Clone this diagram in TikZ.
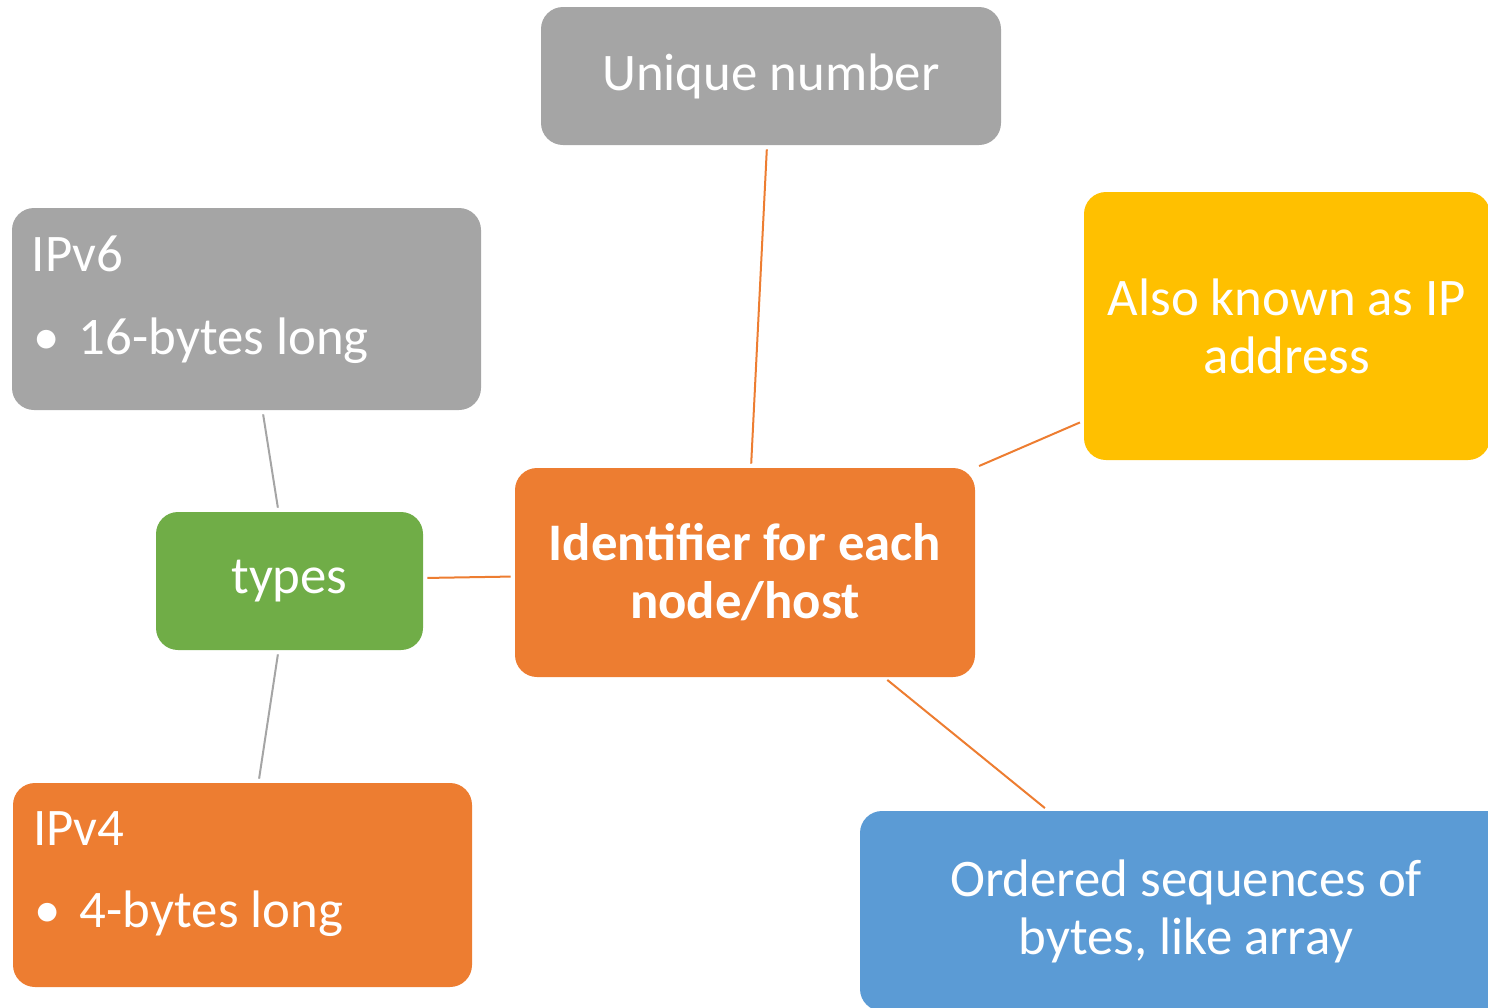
\documentclass[tikz,border=0pt]{standalone}
\usepackage{fontspec}
\setmainfont{Carlito}
\usepackage{tikz}
\usetikzlibrary{positioning,calc}
\definecolor{mapgrey}{HTML}{A5A5A5}
\definecolor{maporange}{HTML}{ED7D31}
\definecolor{mapyellow}{HTML}{FFC000}
\definecolor{mapgreen}{HTML}{70AD47}
\definecolor{mapblue}{HTML}{5B9BD5}
\tikzset{
    mapbox/.style={
        rectangle, rounded corners=11pt, draw=none,
        text=white, inner sep=0pt, align=center,
        font=\fontsize{26.4}{29}\selectfont
    },
    boxtext/.style={
        text=white, inner sep=0pt, anchor=base west,
        font=\fontsize{26.4}{29}\selectfont
    },
    maplink/.style={
        line width=1pt, shorten <=2pt, shorten >=2pt
    }
}

\begin{document}
\begin{tikzpicture}[x=0.5pt, y=-0.5pt]
    \useasboundingbox (0,0) rectangle (1488,1007);
    % Boxes
    \node[mapbox, fill=mapgrey, minimum width=230pt, minimum height=69pt]
        (unique) at (771,76) {Unique number};
    \node[mapbox, fill=mapgrey, minimum width=234.5pt, minimum height=101pt]
        (ipv6) at (246.5,309) {};
    \node[mapbox, fill=mapyellow, minimum width=203pt, minimum height=134pt]
        (also) at (1287,326) {Also known as IP\\address};
    \node[mapbox, fill=mapgreen, minimum width=133.5pt, minimum height=69pt]
        (types) at (289.5,581) {types};
    \node[mapbox, fill=maporange, minimum width=230pt, minimum height=104.5pt,
        font=\fontsize{26.4}{29}\selectfont\bfseries]
        (ident) at (745,572.5) {Identifier for each\\node/host};
    \node[mapbox, fill=maporange, minimum width=229.5pt, minimum height=102pt]
        (ipv4) at (242.5,885) {};
    \node[mapbox, fill=mapblue, minimum width=326pt, minimum height=100pt]
        (ordered) at (1186,911) {Ordered sequences of\\bytes, like array};
    % Box texts
    \node[boxtext] (ipv6title) at ($(ipv6.north west)+(20,64)$) {IPv6};
    \node[boxtext] (ipv6item) at ($(ipv6.north west)+(21,147)$)
        {\makebox[23pt][l]{\textbullet}16-bytes long};
    \node[boxtext] (ipv4title) at ($(ipv4.north west)+(20,63)$) {IPv4};
    \node[boxtext] (ipv4item) at ($(ipv4.north west)+(21,145)$)
        {\makebox[23pt][l]{\textbullet}4-bytes long};
    % Orange links
    \draw[maplink, maporange] ($(unique.south)+(-4,0)$) -- ($(ident.north)+(6,0)$);
    \draw[maplink, maporange] (also.-155) -- (ident.north east);
    \draw[maplink, maporange] (ident.-37.6) -- ($(ordered.north)+(-138,0)$);
    \draw[maplink, maporange] ($(types.east)+(0,-3)$) -- ($(ident.west)+(0,4)$);
    % Grey links
    \draw[maplink, mapgrey] ($(types.north)+(-11,0)$) -- ($(ipv6.south)+(16,0)$);
    \draw[maplink, mapgrey] ($(types.south)+(-11,0)$) -- ($(ipv4.north)+(16,0)$);
\end{tikzpicture}
\end{document}
